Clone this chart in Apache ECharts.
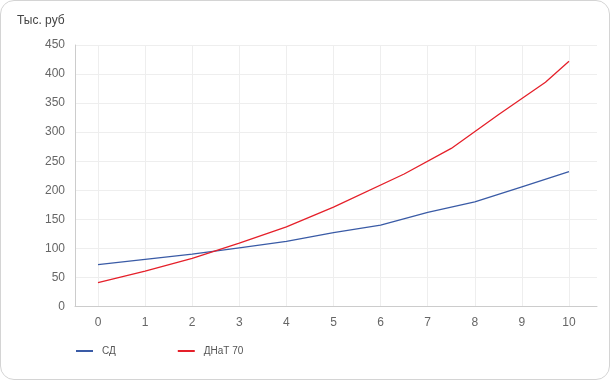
<!DOCTYPE html>
<html>
<head>
<meta charset="utf-8">
<script src="https://cdn.jsdelivr.net/npm/echarts@6/dist/echarts.min.js"></script>
<style>
html,body{margin:0;padding:0;background:#fff;}
#c{position:absolute;left:0;top:0;width:610px;height:380px;}
#frame{position:absolute;left:0;top:0;width:610px;height:380px;box-sizing:border-box;border:1px solid #d4d4d4;border-radius:14px;pointer-events:none;}
</style>
</head>
<body>
<div id="c"></div>
<div id="frame"></div>
<script>
var titleText = 'Тыс. руб';
var seriesNames = ['СД', 'ДНаТ 70'];
var sdX = [0, 1, 2, 3, 4, 5, 6, 7, 8, 9, 10];
var sdY = [72, 81, 90, 101, 112, 127, 140, 162, 180, 206, 232];
var dnatX = [0, 1, 2, 3, 4, 5, 6.5, 7.5, 8.5, 9.5, 10];
var dnatY = [41, 61, 83, 109, 137, 171, 228, 272, 330, 386, 422];
var yMin = 0, yMax = 450, yStep = 50;
var xMin = 0, xMax = 10, xStep = 1;

function pairs(xs, ys) { return xs.map(function (x, i) { return [x, ys[i]]; }); }

var chart = echarts.init(document.getElementById('c'), null, {renderer: 'canvas'});
var font = 'Liberation Sans, Arial, sans-serif';
chart.setOption({
  animation: false,
  textStyle: {fontFamily: font},
  title: {text: titleText, left: 17, top: 15, padding: 0, textStyle: {fontSize: 12, fontWeight: 'normal', color: '#444', fontFamily: font}},
  legend: {
    left: 76, top: 346, padding: 0, itemWidth: 17, itemHeight: 2, itemGap: 62,
    icon: 'rect',
    textStyle: {fontSize: 10, color: '#555', fontFamily: font, padding: [0, 0, 0, 4]},
    data: seriesNames
  },
  grid: [
    {left: 75, right: 13, top: 45, bottom: 73.5},
    {left: 98, right: 41, top: 45, bottom: 73.5}
  ],
  xAxis: [
    {gridIndex: 0, type: 'value', min: 0, max: 1, axisLine: {show: true, lineStyle: {color: '#ccc'}},
     axisTick: {show: false}, axisLabel: {show: false}, splitLine: {show: false}},
    {gridIndex: 1, type: 'value', min: xMin, max: xMax, interval: xStep,
     axisLine: {show: false}, axisTick: {show: false},
     axisLabel: {color: '#666', fontSize: 12, margin: 10, fontFamily: font},
     splitLine: {show: true, lineStyle: {color: '#eeeeee'}}}
  ],
  yAxis: [
    {gridIndex: 0, type: 'value', min: yMin, max: yMax, interval: yStep,
     axisLine: {show: true, lineStyle: {color: '#ccc'}}, axisTick: {show: false},
     axisLabel: {color: '#666', fontSize: 12, margin: 10, fontFamily: font},
     splitLine: {show: true, lineStyle: {color: '#eeeeee'}}},
    {gridIndex: 1, type: 'value', min: yMin, max: yMax, show: false}
  ],
  series: [
    {name: seriesNames[0], type: 'line', xAxisIndex: 1, yAxisIndex: 1, data: pairs(sdX, sdY),
     showSymbol: false, symbol: 'none', lineStyle: {color: '#3a5ba6', width: 1.3}, itemStyle: {color: '#3a5ba6'}},
    {name: seriesNames[1], type: 'line', xAxisIndex: 1, yAxisIndex: 1, data: pairs(dnatX, dnatY),
     showSymbol: false, symbol: 'none', lineStyle: {color: '#e5202a', width: 1.3}, itemStyle: {color: '#e5202a'}}
  ]
});
</script>
</body>
</html>
